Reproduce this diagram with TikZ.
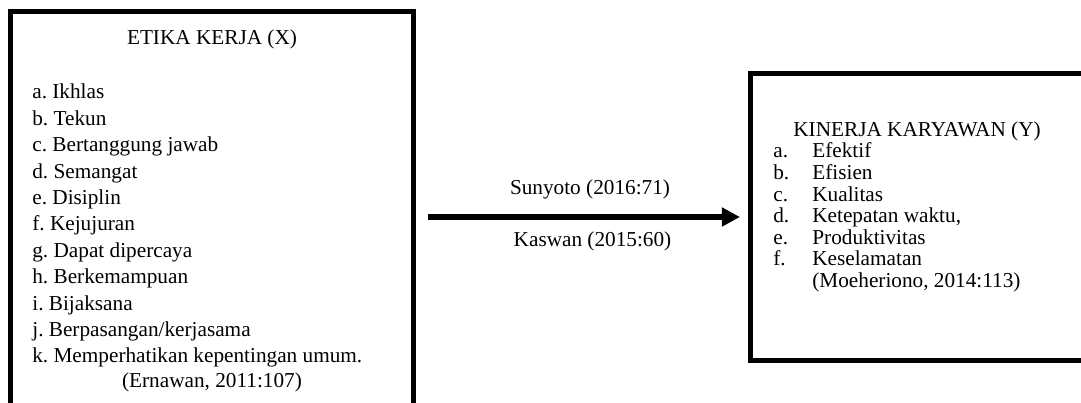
\documentclass[tikz,border=0pt]{standalone}
\usepackage{fontspec}
\setmainfont{Liberation Serif}
\usetikzlibrary{arrows.meta, positioning}
\newdimen\px
\px=0.5647pt
\frenchspacing

\begin{document}
\begin{tikzpicture}[
    x=\px, y=-\px,
    kotak/.style = {rectangle, draw, line width=5\px, outer sep=0pt, inner sep=0pt},
    panah/.style = {black, line width=6\px, -{Triangle[length=10.2pt, width=10.2pt]}},
    teks/.style = {inner sep=0pt, anchor=base west},
    font=\fontsize{12}{14}\selectfont
    ]
  \useasboundingbox (0,0) rectangle (1081,403);

  \node[kotak, minimum width=403\px, minimum height=394.5\px] (etika) at (212,208.75) {} ;
  \node[kotak, minimum width=340\px, minimum height=287\px] (kinerja) at (920,217) {} ;

  % variabel X
  \node[teks, anchor=base] (judulX) at (212,44.3) {ETIKA KERJA (X)} ;
  \foreach \t [count=\i from 0] in {a. Ikhlas, b. Tekun, c. Bertanggung jawab, d. Semangat,
      e. Disiplin, f. Kejujuran, g. Dapat dipercaya, h. Berkemampuan, i. Bijaksana,
      j. Berpasangan/kerjasama, k. Memperhatikan kepentingan umum.}
    \node[teks] (x\i) at (32,99+26.4*\i) {\t} ;
  \node[teks, anchor=base] (sumberX) at (212,388) {(Ernawan, 2011:107)} ;

  % variabel Y
  \node[teks] (judulY) at (793,136.7) {KINERJA KARYAWAN (Y)} ;
  \foreach \h/\t [count=\i from 0] in {a./Efektif, b./Efisien, c./Kualitas,
      d./{Ketepatan waktu,}, e./Produktivitas, f./Keselamatan}
    {\node[teks] (h\i) at (773,158+21.6*\i) {\h} ;
     \node[teks] (y\i) at (812,158+21.6*\i) {\t} ;}
  \node[teks] (sumberY) at (812,287.6) {(Moeheriono, 2014:113)} ;

  \draw[panah, shorten <=14.5\px, shorten >=10\px]
  (etika.east |- kinerja.west) -- (kinerja.west)
    node[teks, anchor=base, pos=0.5245, yshift=22\px] (sunyoto) {Sunyoto (2016:71)}
    node[teks, anchor=base, pos=0.532, yshift=-29.5\px] (kaswan) {Kaswan (2015:60)} ;
\end{tikzpicture}
\end{document}
